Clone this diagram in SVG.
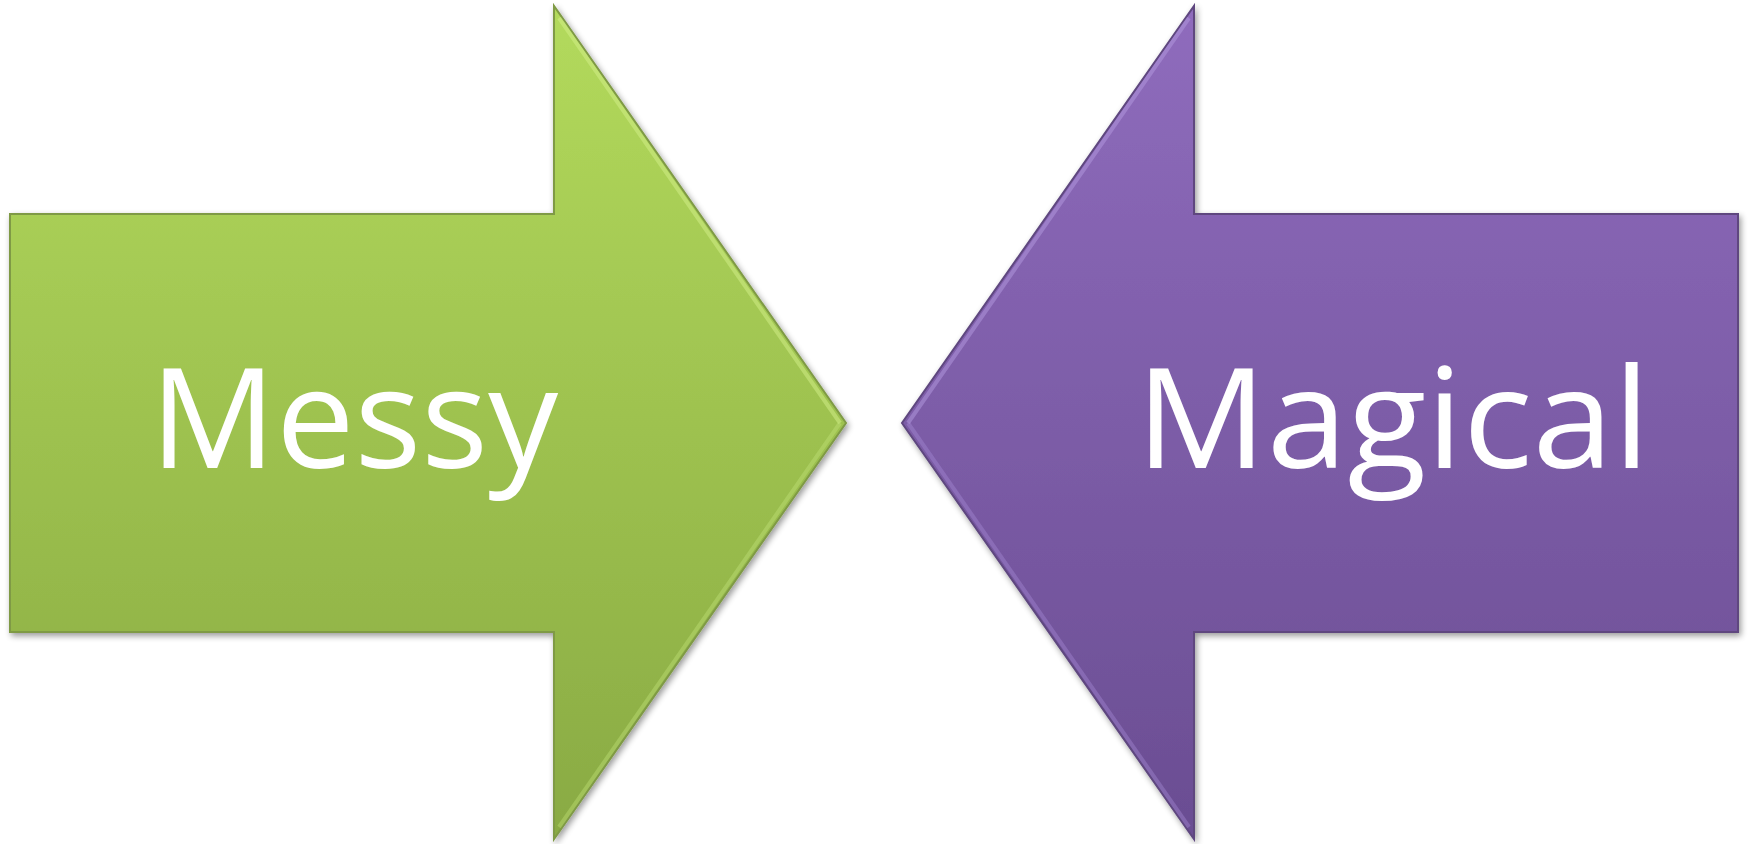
<svg xmlns="http://www.w3.org/2000/svg" width="1749" height="844" viewBox="0 0 1749 844">
<style>
.lbl{font-family:"Open Sans","Liberation Sans",sans-serif;font-size:140px;fill:#ffffff}
</style>
<defs>
<linearGradient id="gG" x1="0" y1="0" x2="0" y2="1">
<stop offset="0" stop-color="#b3da5c"/>
<stop offset="1" stop-color="#89aa43"/>
</linearGradient>
<linearGradient id="gP" x1="0" y1="0" x2="0" y2="1">
<stop offset="0" stop-color="#8f6cbd"/>
<stop offset="1" stop-color="#6a4d92"/>
</linearGradient>
<filter id="sh" x="-5%" y="-5%" width="110%" height="110%">
<feGaussianBlur in="SourceAlpha" stdDeviation="3"/>
<feOffset dx="2" dy="3"/>
<feComponentTransfer><feFuncA type="linear" slope="0.4"/></feComponentTransfer>
<feMerge><feMergeNode/><feMergeNode in="SourceGraphic"/></feMerge>
</filter>
</defs>
<g id="messy" filter="url(#sh)">
<path d="M10 214 H554 V6 L846 423 L554 839 V632 H10 Z" fill="url(#gG)" stroke="#7f9a45" stroke-width="2"/>
<path d="M559 18 L840 423" stroke="#d4f08a" stroke-width="4" fill="none" opacity="0.5"/>
<path d="M840 423 L559 827" stroke="#c4e47a" stroke-width="4" fill="none" opacity="0.4"/>
<text class="lbl" x="354" y="468" text-anchor="middle" textLength="408" lengthAdjust="spacingAndGlyphs">Messy</text>
</g>
<g id="magical" filter="url(#sh)">
<path d="M1738 214 H1194 V6 L902 423 L1194 839 V632 H1738 Z" fill="url(#gP)" stroke="#5e477f" stroke-width="2"/>
<path d="M1189 18 L908 423" stroke="#b49ae0" stroke-width="4" fill="none" opacity="0.5"/>
<path d="M908 423 L1189 827" stroke="#a78bd6" stroke-width="4" fill="none" opacity="0.4"/>
<text class="lbl" x="1393" y="468" text-anchor="middle" textLength="514" lengthAdjust="spacingAndGlyphs">Magical</text>
</g>
<g id="connectors"></g>
</svg>
